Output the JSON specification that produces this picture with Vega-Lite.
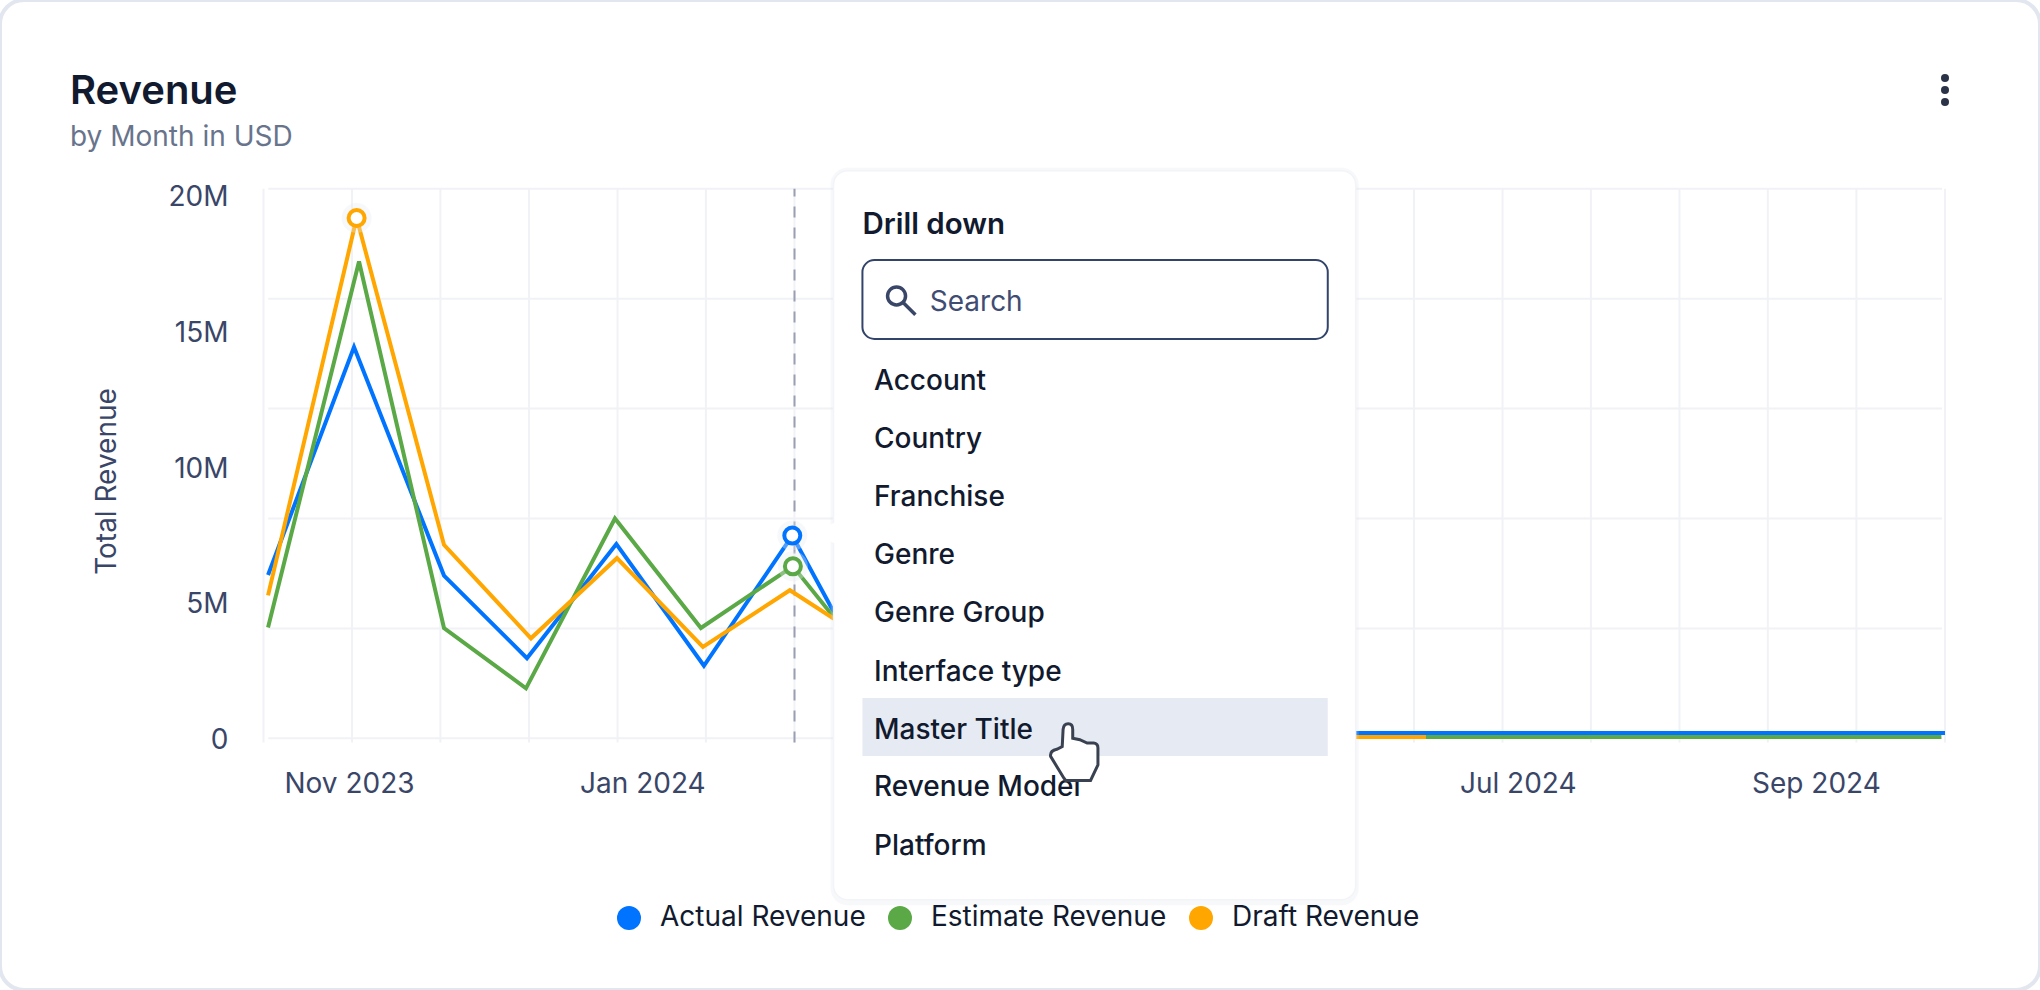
{"$schema":"https://vega.github.io/schema/vega-lite/v6.json","width":2040,"height":990,"autosize":{"type":"none"},"padding":0,"background":"#ffffff","view":{"fill":"#ffffff","stroke":"#e2e6ee","strokeWidth":4,"cornerRadius":24},
"title":{"text":"Revenue","subtitle":"by Month in USD","anchor":"start","frame":"group","dx":70,"offset":-152,"font":"Inter","fontSize":40,"fontWeight":600,"color":"#111a2e","subtitleFont":"Inter","subtitleFontSize":28,"subtitleColor":"#68748c","subtitlePadding":12},
"datasets":{
"gridX":[{"date":"2023-10-14T05:20:00Z"},{"date":"2023-11-01T15:00:00Z"},{"date":"2023-11-20T00:00:00Z"},{"date":"2023-12-08T10:00:00Z"},{"date":"2023-12-26T20:00:00Z"},{"date":"2024-01-14T05:00:00Z"},{"date":"2024-02-01T15:00:00Z"},{"date":"2024-02-20T00:00:00Z"},{"date":"2024-03-09T10:00:00Z"},{"date":"2024-03-27T20:00:00Z"},{"date":"2024-04-15T05:00:00Z"},{"date":"2024-05-03T15:00:00Z"},{"date":"2024-05-22T00:00:00Z"},{"date":"2024-06-09T10:00:00Z"},{"date":"2024-06-27T20:00:00Z"},{"date":"2024-07-16T05:00:00Z"},{"date":"2024-08-03T15:00:00Z"},{"date":"2024-08-22T00:00:00Z"},{"date":"2024-09-09T10:00:00Z"},{"date":"2024-09-27T20:00:00Z"}],
"gridY":[{"value":0},{"value":4045000},{"value":8090000},{"value":12135000},{"value":16180000},{"value":20225000}],
"revenue":[
{"series":"Actual Revenue","date":"2023-10-15T04:00:00Z","value":6010000},
{"series":"Actual Revenue","date":"2023-11-02T01:00:00Z","value":14400000},
{"series":"Actual Revenue","date":"2023-11-20T18:00:00Z","value":5990000},
{"series":"Actual Revenue","date":"2023-12-08T00:00:00Z","value":2950000},
{"series":"Actual Revenue","date":"2023-12-26T14:00:00Z","value":7150000},
{"series":"Actual Revenue","date":"2024-01-13T19:00:00Z","value":2670000},
{"series":"Actual Revenue","date":"2024-02-01T04:00:00Z","value":7460000,"hover":true},
{"series":"Actual Revenue","date":"2024-02-19T10:00:00Z","value":1500000},
{"series":"Actual Revenue","date":"2024-03-08T17:00:00Z","value":195000},
{"series":"Actual Revenue","date":"2024-03-27T20:00:00Z","value":195000},
{"series":"Actual Revenue","date":"2024-04-15T05:00:00Z","value":195000},
{"series":"Actual Revenue","date":"2024-05-03T15:00:00Z","value":195000},
{"series":"Actual Revenue","date":"2024-05-22T00:00:00Z","value":195000},
{"series":"Actual Revenue","date":"2024-06-09T10:00:00Z","value":195000},
{"series":"Actual Revenue","date":"2024-06-27T20:00:00Z","value":195000},
{"series":"Actual Revenue","date":"2024-07-16T05:00:00Z","value":195000},
{"series":"Actual Revenue","date":"2024-08-03T15:00:00Z","value":195000},
{"series":"Actual Revenue","date":"2024-08-22T00:00:00Z","value":195000},
{"series":"Actual Revenue","date":"2024-09-09T10:00:00Z","value":195000},
{"series":"Actual Revenue","date":"2024-09-27T20:00:00Z","value":195000},
{"series":"Estimate Revenue","date":"2023-10-15T04:00:00Z","value":4080000},
{"series":"Estimate Revenue","date":"2023-11-03T02:00:00Z","value":17550000},
{"series":"Estimate Revenue","date":"2023-11-20T18:00:00Z","value":4060000},
{"series":"Estimate Revenue","date":"2023-12-07T19:00:00Z","value":1840000},
{"series":"Estimate Revenue","date":"2023-12-26T07:00:00Z","value":8090000},
{"series":"Estimate Revenue","date":"2024-01-13T04:00:00Z","value":4060000},
{"series":"Estimate Revenue","date":"2024-02-01T07:00:00Z","value":6330000,"hover":true},
{"series":"Estimate Revenue","date":"2024-02-19T10:00:00Z","value":2350000},
{"series":"Estimate Revenue","date":"2024-03-08T17:00:00Z","value":50000},
{"series":"Estimate Revenue","date":"2024-03-27T20:00:00Z","value":50000},
{"series":"Estimate Revenue","date":"2024-04-15T05:00:00Z","value":50000},
{"series":"Estimate Revenue","date":"2024-05-03T15:00:00Z","value":50000},
{"series":"Estimate Revenue","date":"2024-05-22T00:00:00Z","value":50000},
{"series":"Estimate Revenue","date":"2024-06-09T10:00:00Z","value":50000},
{"series":"Estimate Revenue","date":"2024-06-27T20:00:00Z","value":50000},
{"series":"Estimate Revenue","date":"2024-07-16T05:00:00Z","value":50000},
{"series":"Estimate Revenue","date":"2024-08-03T15:00:00Z","value":50000},
{"series":"Estimate Revenue","date":"2024-08-22T00:00:00Z","value":50000},
{"series":"Estimate Revenue","date":"2024-09-09T10:00:00Z","value":50000},
{"series":"Estimate Revenue","date":"2024-09-27T02:00:00Z","value":50000},
{"series":"Draft Revenue","date":"2023-10-15T04:00:00Z","value":5260000},
{"series":"Draft Revenue","date":"2023-11-02T14:00:00Z","value":19150000,"hover":true},
{"series":"Draft Revenue","date":"2023-11-20T18:00:00Z","value":7120000},
{"series":"Draft Revenue","date":"2023-12-08T20:00:00Z","value":3680000},
{"series":"Draft Revenue","date":"2023-12-26T17:00:00Z","value":6630000},
{"series":"Draft Revenue","date":"2024-01-13T14:00:00Z","value":3360000},
{"series":"Draft Revenue","date":"2024-01-31T16:00:00Z","value":5450000},
{"series":"Draft Revenue","date":"2024-02-19T10:00:00Z","value":3300000},
{"series":"Draft Revenue","date":"2024-03-08T17:00:00Z","value":50000},
{"series":"Draft Revenue","date":"2024-03-27T20:00:00Z","value":50000},
{"series":"Draft Revenue","date":"2024-04-15T05:00:00Z","value":50000},
{"series":"Draft Revenue","date":"2024-05-03T15:00:00Z","value":50000},
{"series":"Draft Revenue","date":"2024-05-22T00:00:00Z","value":50000},
{"series":"Draft Revenue","date":"2024-06-11T22:00:00Z","value":50000}
],
"menuDots":[{"value":24300000},{"value":23860000},{"value":23420000}]
},
"layer":[
{"data":{"name":"gridX"},"mark":{"type":"rule","color":"#f1f2f6","strokeWidth":2},"encoding":{"x":{"field":"date","type":"temporal","title":null},"y":{"datum":-150000,"title":"Total Revenue"},"y2":{"datum":20225000}}},
{"data":{"name":"gridY"},"mark":{"type":"rule","color":"#f1f2f6","strokeWidth":2},"encoding":{"y":{"field":"value","type":"quantitative","title":"Total Revenue"},"x":{"datum":{"year":2023,"month":10,"date":15,"hours":5,"utc":true},"type":"temporal","title":null},"x2":{"datum":{"year":2024,"month":9,"date":27,"hours":5,"utc":true}}}},
{"data":{"values":[{"date":"2024-02-01T15:00:00Z"}]},"mark":{"type":"rule","color":"#9a9fb2","strokeWidth":2,"strokeDash":[11,10]},"encoding":{"x":{"field":"date","type":"temporal","title":null},"y":{"datum":-150000,"title":"Total Revenue"},"y2":{"datum":20225000}}},
{"data":{"name":"revenue"},"mark":{"type":"line","strokeWidth":4,"strokeJoin":"miter"},"encoding":{
"x":{"field":"date","type":"temporal","title":null,"scale":{"type":"utc","domain":[{"year":2023,"month":10,"date":14,"hours":5,"minutes":20,"utc":true},{"year":2024,"month":9,"date":27,"hours":20,"utc":true}],"range":[263.5,1945],"nice":false},"axis":{"orient":"bottom","offset":-230,"domain":false,"ticks":false,"grid":false,"labelPadding":10,"format":"%b %Y","values":[{"year":2023,"month":11,"date":1,"utc":true},{"year":2024,"month":1,"date":1,"utc":true},{"year":2024,"month":7,"date":1,"utc":true},{"year":2024,"month":9,"date":1,"utc":true}],"labelFont":"Inter","labelFontSize":28,"labelColor":"#3a4668","labelOverlap":false,"labelFlush":false}},
"y":{"field":"value","type":"quantitative","title":"Total Revenue","scale":{"domain":[0,20225000],"range":[738.3,188.8],"nice":false,"zero":false},"axis":{"orient":"left","offset":-236,"domain":false,"ticks":false,"grid":false,"labelPadding":8,"labelOffset":2.5,"values":[0,5000000,10000000,15000000,20000000],"labelExpr":"datum.value === 0 ? '0' : (datum.value / 1000000) + 'M'","labelFont":"Inter","labelFontSize":28,"labelColor":"#3a4668","titleFont":"Inter","titleFontSize":28,"titleFontWeight":400,"titleColor":"#3a4668","titleX":-129,"titleY":481,"titleAngle":-90,"titleBaseline":"middle","titleAlign":"center"}},
"color":{"field":"series","type":"nominal","scale":{"domain":["Actual Revenue","Estimate Revenue","Draft Revenue"],"range":["#0073ff","#5aa946","#ffa600"]},"legend":{"orient":"none","legendX":615,"legendY":904,"direction":"horizontal","title":null,"symbolType":"circle","symbolSize":576,"symbolStrokeWidth":0,"labelFont":"Inter","labelFontSize":28,"labelColor":"#111a2e","labelOffset":17,"labelLimit":400,"columnPadding":20,"padding":0}}
}},
{"data":{"name":"revenue"},"transform":[{"filter":"datum.hover"}],"mark":{"type":"circle","size":900,"color":"#e8eaf0","opacity":0.35},"encoding":{"x":{"field":"date","type":"temporal","title":null},"y":{"field":"value","type":"quantitative","title":"Total Revenue"}}},
{"data":{"name":"revenue"},"transform":[{"filter":"datum.hover"}],"mark":{"type":"point","size":256,"filled":false,"fill":"#ffffff","fillOpacity":1,"strokeWidth":4,"opacity":1},"encoding":{"x":{"field":"date","type":"temporal","title":null},"y":{"field":"value","type":"quantitative","title":"Total Revenue"},"color":{"field":"series","type":"nominal"},"shape":{"value":"circle"}}},
{"data":{"name":"revenue"},"mark":{"type":"circle","size":0,"opacity":1},"encoding":{"x":{"field":"date","type":"temporal","title":null},"y":{"field":"value","type":"quantitative","title":"Total Revenue"},"color":{"field":"series","type":"nominal"}}},
{"data":{"name":"menuDots"},"mark":{"type":"circle","size":64,"color":"#2b3348","opacity":1},"encoding":{"x":{"datum":{"year":2024,"month":9,"date":27,"hours":20,"utc":true},"type":"temporal","title":null},"y":{"field":"value","type":"quantitative","title":"Total Revenue"}}},
{"data":{"values":[{}]},"mark":{"type":"rect","fill":"#e6eaf2","stroke":"#dfe3ec","strokeWidth":6,"opacity":0.22,"cornerRadius":14},"encoding":{"x":{"datum":{"year":2024,"month":2,"date":9,"hours":18,"utc":true},"type":"temporal","title":null},"x2":{"datum":{"year":2024,"month":5,"date":28,"hours":7,"utc":true}},"y":{"datum":20890000,"title":"Total Revenue"},"y2":{"datum":-6030000}}},
{"data":{"values":[{}]},"mark":{"type":"rect","fill":"#ffffff","stroke":"#f3f4f8","strokeWidth":1.5,"cornerRadius":14},"encoding":{"x":{"datum":{"year":2024,"month":2,"date":9,"hours":18,"utc":true},"type":"temporal","title":null},"x2":{"datum":{"year":2024,"month":5,"date":28,"hours":7,"utc":true}},"y":{"datum":20890000,"title":"Total Revenue"},"y2":{"datum":-5940000}}},
{"data":{"values":[{}]},"mark":{"type":"point","shape":"M1,-1 L-1,0 L1,1 Z","size":700,"filled":true,"color":"#ffffff","opacity":1},"encoding":{"x":{"datum":{"year":2024,"month":2,"date":8,"hours":10,"utc":true},"type":"temporal","title":null},"y":{"datum":7560000,"title":"Total Revenue"}}},
{"data":{"values":[{"label":"Drill down"}]},"mark":{"type":"text","align":"left","baseline":"middle","font":"Inter","fontSize":29.5,"fontWeight":600,"color":"#111a2e"},"encoding":{"text":{"field":"label"},"x":{"datum":{"year":2024,"month":2,"date":15,"hours":18,"utc":true},"type":"temporal","title":null},"y":{"datum":18880000,"title":"Total Revenue"}}},
{"data":{"values":[{}]},"mark":{"type":"rect","fill":"#ffffff","stroke":"#33446b","strokeWidth":2,"cornerRadius":12},"encoding":{"x":{"datum":{"year":2024,"month":2,"date":15,"hours":18,"utc":true},"type":"temporal","title":null},"x2":{"datum":{"year":2024,"month":5,"date":22,"hours":12,"utc":true}},"y":{"datum":17600000,"title":"Total Revenue"},"y2":{"datum":14700000}}},
{"data":{"values":[{}]},"mark":{"type":"point","shape":"M-0.92,-0.3 a0.62,0.62 0 1,0 1.24,0 a0.62,0.62 0 1,0 -1.24,0 M0.15,0.15 L1,1","size":841,"filled":false,"strokeWidth":3.5,"color":"#3a4668","opacity":1},"encoding":{"x":{"datum":{"year":2024,"month":2,"date":23,"hours":18,"utc":true},"type":"temporal","title":null},"y":{"datum":16120000,"title":"Total Revenue"}}},
{"data":{"values":[{"label":"Search"}]},"mark":{"type":"text","align":"left","baseline":"middle","font":"Inter","fontSize":28,"color":"#3f4d72"},"encoding":{"text":{"field":"label"},"x":{"datum":{"year":2024,"month":2,"date":29,"hours":18,"utc":true},"type":"temporal","title":null},"y":{"datum":16040000,"title":"Total Revenue"}}},
{"data":{"values":[{}]},"mark":{"type":"rect","fill":"#e6eaf2"},"encoding":{"x":{"datum":{"year":2024,"month":2,"date":15,"hours":18,"utc":true},"type":"temporal","title":null},"x2":{"datum":{"year":2024,"month":5,"date":22,"hours":12,"utc":true}},"y":{"datum":1480000,"title":"Total Revenue"},"y2":{"datum":-650000}}},
{"data":{"values":[{"label":"Account"}]},"mark":{"type":"text","align":"left","baseline":"middle","font":"Inter","fontSize":28,"fontWeight":500,"color":"#111a2e"},"encoding":{"text":{"field":"label"},"x":{"datum":{"year":2024,"month":2,"date":18,"hours":4,"utc":true},"type":"temporal","title":null},"y":{"datum":13110000,"title":"Total Revenue"}}},
{"data":{"values":[{"label":"Country"}]},"mark":{"type":"text","align":"left","baseline":"middle","font":"Inter","fontSize":28,"fontWeight":500,"color":"#111a2e"},"encoding":{"text":{"field":"label"},"x":{"datum":{"year":2024,"month":2,"date":18,"hours":4,"utc":true},"type":"temporal","title":null},"y":{"datum":10970000,"title":"Total Revenue"}}},
{"data":{"values":[{"label":"Franchise"}]},"mark":{"type":"text","align":"left","baseline":"middle","font":"Inter","fontSize":28,"fontWeight":500,"color":"#111a2e"},"encoding":{"text":{"field":"label"},"x":{"datum":{"year":2024,"month":2,"date":18,"hours":4,"utc":true},"type":"temporal","title":null},"y":{"datum":8850000,"title":"Total Revenue"}}},
{"data":{"values":[{"label":"Genre"}]},"mark":{"type":"text","align":"left","baseline":"middle","font":"Inter","fontSize":28,"fontWeight":500,"color":"#111a2e"},"encoding":{"text":{"field":"label"},"x":{"datum":{"year":2024,"month":2,"date":18,"hours":4,"utc":true},"type":"temporal","title":null},"y":{"datum":6710000,"title":"Total Revenue"}}},
{"data":{"values":[{"label":"Genre Group"}]},"mark":{"type":"text","align":"left","baseline":"middle","font":"Inter","fontSize":28,"fontWeight":500,"color":"#111a2e"},"encoding":{"text":{"field":"label"},"x":{"datum":{"year":2024,"month":2,"date":18,"hours":4,"utc":true},"type":"temporal","title":null},"y":{"datum":4570000,"title":"Total Revenue"}}},
{"data":{"values":[{"label":"Interface type"}]},"mark":{"type":"text","align":"left","baseline":"middle","font":"Inter","fontSize":28,"fontWeight":500,"color":"#111a2e"},"encoding":{"text":{"field":"label"},"x":{"datum":{"year":2024,"month":2,"date":18,"hours":4,"utc":true},"type":"temporal","title":null},"y":{"datum":2420000,"title":"Total Revenue"}}},
{"data":{"values":[{"label":"Master Title"}]},"mark":{"type":"text","align":"left","baseline":"middle","font":"Inter","fontSize":28,"fontWeight":500,"color":"#111a2e"},"encoding":{"text":{"field":"label"},"x":{"datum":{"year":2024,"month":2,"date":18,"hours":4,"utc":true},"type":"temporal","title":null},"y":{"datum":280000,"title":"Total Revenue"}}},
{"data":{"values":[{"label":"Revenue Model"}]},"mark":{"type":"text","align":"left","baseline":"middle","font":"Inter","fontSize":28,"fontWeight":500,"color":"#111a2e"},"encoding":{"text":{"field":"label"},"x":{"datum":{"year":2024,"month":2,"date":18,"hours":4,"utc":true},"type":"temporal","title":null},"y":{"datum":-1840000,"title":"Total Revenue"}}},
{"data":{"values":[{"label":"Platform"}]},"mark":{"type":"text","align":"left","baseline":"middle","font":"Inter","fontSize":28,"fontWeight":500,"color":"#111a2e"},"encoding":{"text":{"field":"label"},"x":{"datum":{"year":2024,"month":2,"date":18,"hours":4,"utc":true},"type":"temporal","title":null},"y":{"datum":-3990000,"title":"Total Revenue"}}},
{"data":{"values":[{}]},"mark":{"type":"point","shape":"M-0.38,-0.8 Q-0.36,-1 -0.2,-1 Q-0.04,-1 -0.04,-0.8 L-0.04,-0.49 L0.21,-0.44 L0.47,-0.32 L0.7,-0.32 Q0.85,-0.3 0.85,-0.15 L0.85,0.45 L0.59,1 L-0.29,1 L-0.35,0.92 L-0.82,0.15 Q-0.85,-0.05 -0.6,-0.1 L-0.41,-0.2 Z","size":3211,"filled":true,"fill":"#ffffff","stroke":"#3a4252","strokeWidth":3,"opacity":1},"encoding":{"x":{"datum":{"year":2024,"month":3,"date":30,"hours":17,"utc":true},"type":"temporal","title":null},"y":{"datum":-510000,"title":"Total Revenue"}}}
]}
